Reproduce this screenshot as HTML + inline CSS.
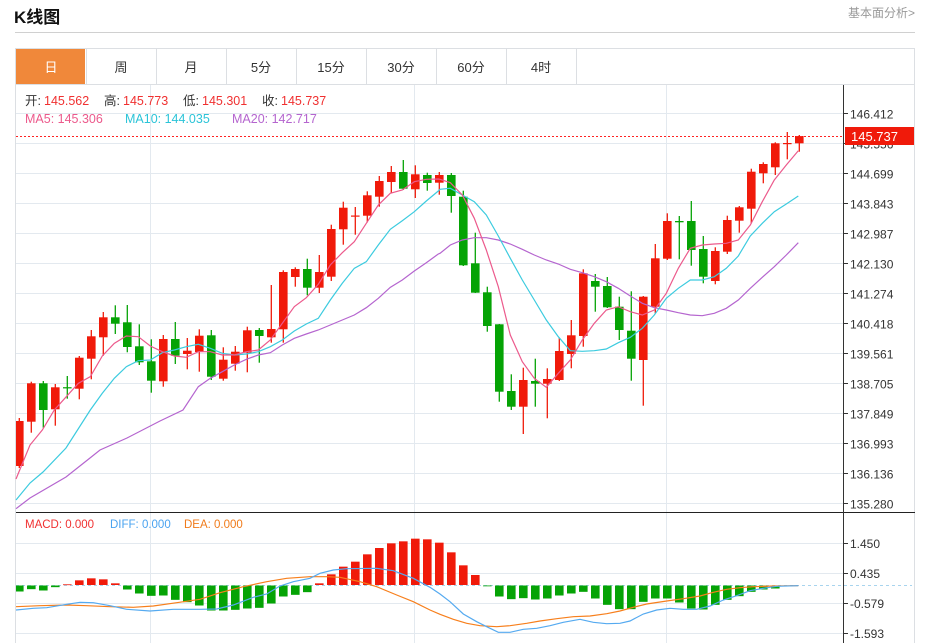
<!DOCTYPE html>
<html><head><meta charset="utf-8"><style>
body{margin:0;width:927px;height:643px;overflow:hidden;background:#fff;font-family:"Liberation Sans","Noto Sans CJK SC",sans-serif;position:relative}
.a{position:absolute;white-space:nowrap}
</style></head><body>
<div class="a" style="left:14px;top:3px;font-size:17px;font-weight:bold;color:#111">K线图</div>
<div class="a" style="left:848px;top:4px;font-size:12px;color:#999">基本面分析&gt;</div>
<div class="a" style="left:15px;top:32px;width:900px;height:1px;background:#d0d0d0"></div>
<svg class="a" style="left:0;top:0" width="927" height="643" id="s"></svg>
<script>
var S='';
function L(x1,y1,x2,y2,c,w,e){S+='<line x1="'+x1+'" y1="'+y1+'" x2="'+x2+'" y2="'+y2+'" stroke="'+c+'" stroke-width="'+(w||1)+'" '+(e||'')+'/>';}
function R(x,y,w,h,c){S+='<rect x="'+x+'" y="'+y+'" width="'+w+'" height="'+h+'" fill="'+c+'"/>';}
function T(x,y,t,c,sz,a){S+='<text x="'+x+'" y="'+y+'" fill="'+c+'" font-size="'+sz+'" '+(a||'')+'>'+t+'</text>';}
R(15,48,900,595,'#fff');
S+='<rect x="15.5" y="48.5" width="899" height="600" fill="none" stroke="#dcdfe3"/>';
var tabs=['日','周','月','5分','15分','30分','60分','4时'];
for(var i=0;i<8;i++){var x=16+i*70;if(i==0)R(16,49,69,35,'#f0883a');
L(x+70.5,49,x+70.5,84,'#dcdfe3');T(x+35,72,tabs[i],i==0?'#fff':'#333',13,'text-anchor="middle"');}
L(15,84.5,915,84.5,'#dcdfe3');
var lab=['146.412','145.556','144.699','143.843','142.987','142.130','141.274','140.418','139.561','138.705','137.849','136.993','136.136','135.280'];
for(var i=0;i<14;i++){var y=113+30*i+.5;L(16,y,843,y,'#e3e9ef');L(844,y,848,y,'#333');T(850,y+5,lab[i],'#333',12);}
[150.5,414.5,666.5].forEach(function(x){L(x,85,x,643,'#e3e9ef');});
[543,573,603,633].forEach(function(y,i){L(16,y+.5,843,y+.5,'#e3e9ef');L(844,y+.5,848,y+.5,'#333');T(850,y+5,['1.450','0.435','-0.579','-1.593'][i],'#333',12);});
L(16,512.5,915,512.5,'#222');
L(843.5,85,843.5,643,'#333');
var C=[[466,421,418,468,1],[421.7,383.3,381.7,432.7,1],[383.3,410,381,427.7,0],[409.3,387.3,384,425.7,1],[387.2,388.2,376,398.7,0],[388.7,357.7,356,399.3,1],[358.7,336.3,330,379.3,1],[337.3,317.3,312,355.7,1],[317.3,323.7,305.3,334,0],[322.3,347,305,352.3,0],[346.3,362.3,324.3,365,0],[361.3,380.7,339.3,392.7,0],[381.3,339,335,386.7,1],[339,355.7,322,364,0],[354,350.7,338,369.3,1],[352,335.7,329.3,371.7,1],[335.3,376.7,330,380,0],[378.7,359.7,347.3,380.7,1],[363.7,351.7,346,370.7,1],[352.7,330.3,326.7,372.3,1],[330,336,328,362.7,0],[337.3,329,285,342.7,1],[329.3,272,270.3,342.7,1],[277,269,267.3,286.7,1],[269,287.7,258.7,295.3,0],[287.7,272,255,293,1],[276.7,229,224.7,281,1],[229.3,207.7,201.7,244.7,1],[216.5,215.5,207,234.7,1],[215.7,195.3,191.3,222.3,1],[196.7,181,176,206.7,1],[182,172,166,193.3,1],[172,188.7,160,190,0],[189.3,174.3,165.3,198,1],[175,183,172.7,190.7,0],[182.7,175,172,194.7,1],[175,196,173,212.7,0],[196.7,265.3,190.7,266,0],[263.3,292.7,232.7,293,0],[292.3,326,286.7,331.7,0],[324.3,391.7,324,401.7,0],[391,406.7,374.3,410,0],[406.7,380,367.7,434,1],[381,383.7,358.7,406.7,0],[383.7,379,368.3,418.3,1],[380,351,337.7,381,1],[354,335.3,320,368.3,1],[336,273.3,269.3,346.7,1],[281,286.7,274,311.7,0],[286,307.3,277,308,0],[306.7,330,296.7,340,0],[330.7,358.7,291.3,380.7,0],[360,296.7,296,405.7,1],[306.7,258.3,244,313.3,1],[258.7,221,213.3,260,1],[221,222.3,216,259.3,0],[221,250,201,265.7,0],[249,276.7,236,283.3,0],[281,251,247.3,284.3,1],[251.7,220,215.7,254,1],[220.7,207.3,206,232.7,1],[208.7,171.7,168.7,223.3,1],[173.3,164,162.3,183.3,1],[167.3,143.3,142.3,175,1],[143.7,143,132,159.3,1],[143.3,136,135,151.7,1]];
for(var i=0;i<C.length;i++){var c=C[i],x=19.3+12*i,col=c[4]?'#f01a0a':'#05a305';
L(x,c[2],x,c[3],col,1.3);var t=Math.min(c[0],c[1]),h=Math.max(Math.abs(c[0]-c[1]),1.2);var l=Math.max(x-4.3,16);R(l,t,x+4.3-l,h,col);}
function P(pts,col,w){S+='<polyline fill="none" stroke="'+col+'" stroke-width="'+(w||1.2)+'" points="'+pts.map(function(p){return p[0].toFixed(1)+','+p[1].toFixed(1)}).join(' ')+'"/>';}
function z2(a){return a.map(function(p){return [p[0]/3,130+p[1]/3]});}
function z3(a){return a.map(function(p){return [440+p[0]/3,130+p[1]/3]});}
var ma5=[[16,479],[30,445]].concat(z2([[127,900],[163,840],[199,800],[235,760],[271,740],[307,678],[343,640],[379,618],[415,620],[451,648],[487,665],[523,678],[559,682],[595,665],[631,665],[667,675],[703,675],[739,665],[775,660],[811,630],[847,580],[883,530],[919,503],[955,463],[991,405],[1027,368],[1063,335],[1099,280],[1135,225],[1171,190],[1207,180],[1243,155],[1279,148],[1315,147]]),z3([[0,148],[31,158],[67,195],[103,265],[139,360],[175,470],[211,615],[247,695],[283,745],[319,772],[355,730],[391,690],[427,630],[463,580],[499,540],[535,530],[571,545],[607,555],[643,540],[679,490],[715,415],[751,355],[787,345],[823,342],[859,340],[895,330],[931,285],[967,215],[1003,150],[1039,105],[1075,62]]));
var ma10=[[16,500],[30,483],[43,472],[66,448]].concat(z2([[271,840],[307,790],[343,745],[379,710],[415,692],[451,690],[487,668],[523,660],[559,650],[595,643],[631,655],[667,670],[703,675],[739,672],[775,665],[811,650],[847,630],[883,603],[919,582],[955,565],[991,510],[1027,460],[1063,415],[1099,395],[1135,345],[1171,298],[1207,272],[1243,245],[1279,213],[1315,183]]),z3([[0,178],[31,175],[67,195],[103,215],[139,255],[175,318],[211,385],[247,450],[283,510],[319,570],[355,620],[391,662],[427,664],[463,662],[499,657],[535,638],[571,622],[607,595],[643,555],[679,505],[715,475],[751,450],[787,450],[823,440],[859,415],[895,378],[931,318],[967,280],[1003,245],[1039,222],[1075,198]]));
var ma20=[[16,508.7],[30,498],[66,477],[90,458],[100,450],[127,438],[160,421],[183,410]].concat(z2([[595,770],[631,745],[667,725],[703,705],[739,688],[775,675],[811,668],[847,645],[883,625],[919,612],[955,600],[991,585],[1027,570],[1063,555],[1099,533],[1135,505],[1171,472],[1207,450],[1243,423],[1279,398],[1315,372]]),z3([[0,370],[31,345],[67,330],[103,323],[139,323],[175,330],[211,342],[247,358],[283,375],[319,390],[355,402],[391,418],[427,428],[463,440],[499,455],[535,475],[571,498],[607,520],[643,533],[679,540],[715,548],[751,555],[787,557],[823,550],[859,535],[895,510],[931,475],[967,442],[1003,410],[1039,375],[1075,338]]));
P(ma20,'#b565cf');P(ma10,'#3ccbdf');P(ma5,'#ec5a8c');
L(16,136.5,843,136.5,'#f22','1','stroke-dasharray="2,2"');
R(845,127,69,18,'#f01a0a');T(851,141,'145.737','#fff',13);
var M={0:245,1:238,2:242,3:232,4:225,5:213,6:207,7:210,8:222};
var g=[239,251,258,257,270,277,287,302,302,300,296,294,281,260,255,247];g.forEach(function(v,i){M[9+i]=v;});
var r=[222,195,172,157,135,116,102,96,88,90,100,129,168,197,229];r.forEach(function(v,i){M[25+i]=v;});
var g2=[260,268,265,269,266,257,251,246,266,285,298,298,276,266,266,278,296,299,285,270,259,246,239,236,229];g2.forEach(function(v,i){M[40+i]=v;});
L(16,585.5,912,585.5,'#a8d4ee',1,'stroke-dasharray="3,3"');
for(var i=0;i<65;i++){var v=M[i];if(v===undefined)continue;var x=19.3+12*i,d=(v-227)/3,col=d<0?'#f01a0a':'#05a305';var t=d<0?585+d:585.5,h=Math.max(Math.abs(d),0.8);var l=Math.max(x-4.3,16);R(l,t,x+4.3-l,h,col);}
function z6(a){return a.map(function(p){return [p[0]/3,510+p[1]/3]});}
function z7(a){return a.map(function(p){return [440+p[0]/3,510+p[1]/3]});}
var dif=z6([[48,300],[100,295],[140,293],[200,283],[240,277],[280,278],[330,287],[380,298],[450,303],[520,298],[600,298],[650,297],[700,285],[760,262],[800,252],[840,228],[880,215],[930,205],[960,190],[1000,180],[1040,176],[1130,175],[1180,182],[1240,205],[1290,232]]).concat(z7([[0,252],[30,275],[70,312],[110,335],[140,350],[175,367],[210,367],[250,358],[290,355],[330,347],[370,337],[420,328],[460,337],[500,341],[540,340],[570,333],[610,312],[650,300],[690,295],[730,298],[770,298],[810,288],[850,270],[890,257],[930,242],[970,235],[1010,229],[1075,227]]));
var dea=z6([[48,290],[120,287],[200,285],[260,287],[330,290],[400,292],[460,288],[530,278],[600,268],[660,248],[730,230],[800,215],[860,205],[930,200],[980,200],[1020,202],[1080,215],[1130,230],[1190,255],[1240,275],[1290,300]]).concat(z7([[0,313],[40,328],[80,340],[120,347],[170,350],[210,347],[260,340],[300,333],[350,326],[400,320],[450,318],[500,311],[540,303],[580,292],[620,282],[680,273],[730,266],[780,258],[820,247],[860,238],[900,233],[940,230],[1000,228],[1075,227]]));
P(dea,'#f77f1c');P(dif,'#55aaf0');
T(25,528,'MACD: 0.000','#f03030',11.5);T(110,528,'DIFF: 0.000','#4aa3f0',11.5);T(184,528,'DEA: 0.000','#f07b1a',11.5);
T(25,105,'开:','#333',12.5);T(44,105,'145.562','#f03030',12.5);
T(104,105,'高:','#333',12.5);T(123,105,'145.773','#f03030',12.5);
T(183,105,'低:','#333',12.5);T(202,105,'145.301','#f03030',12.5);
T(262,105,'收:','#333',12.5);T(281,105,'145.737','#f03030',12.5);
T(25,123,'MA5: 145.306','#ec5a8c',12.5);T(125,123,'MA10: 144.035','#2bc4d8',12.5);T(232,123,'MA20: 142.717','#b565cf',12.5);
document.getElementById('s').innerHTML=S;
</script>
</body></html>
